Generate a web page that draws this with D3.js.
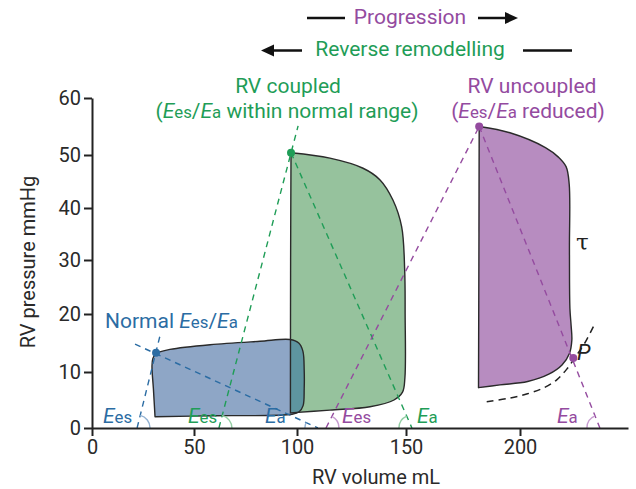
<!DOCTYPE html>
<html><head><meta charset="utf-8">
<script src="https://cdn.jsdelivr.net/npm/d3@7"></script>
<style>body{margin:0;background:#fff}svg{display:block;font-family:Roboto,"Noto Sans",sans-serif}</style>
</head><body><svg id="c" width="636" height="489"></svg>
<script>
// ---- data (volume mL, pressure mmHg) ----
const xTicks = [0, 50, 100, 150, 200];
const yTicks = [0, 10, 20, 30, 40, 50, 60];
// each loop = list of smooth segments joined at sharp corners
const normalLoop = [
  [[31.4,13.3],[29.8,12.3],[29.4,11.0],[30.1,7],[30.9,2.0]],
  [[30.9,2.0],[60,2.2],[97.6,2.45],[101,2.9],[102.8,4.0],[103.3,7],[103.3,10.3],[102.7,13.6],[100.8,15.0],[96.6,15.6],[82,15.3],[57.8,14.7],[38.2,13.9],[31.4,13.3]]
];
const coupledLoop = [
  [[97.1,50.4],[96.9,30],[96.8,2.7]],
  [[96.8,2.7],[115.1,3.2],[133.5,3.8],[144.5,5.0],[148.4,6.4],[149.5,9],[149.6,20],[149.4,28.1],[148.0,36.4],[144.0,41.5],[138.1,45.3],[130.3,47.5],[115.1,49.4],[97.1,50.4]]
];
const uncoupledLoop = [
  [[182.1,55.0],[182.0,35],[181.8,7.2]],
  [[181.8,7.2],[191.2,7.7],[203.2,8.3],[212,9.6],[217.5,11.2],[220.6,13.2],[221.6,15.5],[221.3,18],[220.8,21],[220.6,31.9],[220.5,44.5],[219.2,47.8],[216,49.6],[210.6,51.3],[195.6,53.9],[182.1,55.0]]
];
const edpvr = [[185.4,4.7],[195,5.3],[203.1,6.1],[210,7.2],[215.3,8.6],[219.5,10.5],[223.1,12.6],[227,15],[230.9,18.1]];
// elastance lines: [start, end]
const normalEes = [[22.1,0],[33.3,16.2]];
const normalEa = [[21.1,14.8],[109.6,0]];
const coupledEes = [[62.1,0],[100.5,55.1]];
const coupledEa = [[97.1,50.4],[152.6,0]];
const uncoupledEes = [[113.3,0],[182.1,55.0]];
const uncoupledEa = [[182.1,55.0],[233.3,0]];
const esPoints = [[31.4,13.3],[97.1,50.4],[182.1,55.0],[222.2,12.4]];

const C = {blue:"#2b6ca3", green:"#1f9d57", purple:"#944b9f",
  blueFill:"#8ea6c6", greenFill:"#96c29d", purpleFill:"#b78cc0", overlap:"#5e95a0",
  blueArc:"#93b2d2", greenArc:"#93cea4", purpleArc:"#c79cd0"};

const svg = d3.select("#c");
const x = d3.scaleLinear().domain([0,50,100,150,200,245]).range([92,194,297,406,520,628]);
const y = d3.scaleLinear().domain([0,10,20,30,40,50,60]).range([428,372,314,260,208,155,98]);

const segLine = d3.line().x(d=>x(d[0])).y(d=>y(d[1])).curve(d3.curveCatmullRom.alpha(0.5));
const openLine = segLine;
const straight = d3.line().x(d=>x(d[0])).y(d=>y(d[1]));
function loopPath(segs){
  return segs.map((s,i)=>{ const p = segLine(s); return i===0 ? p : p.replace(/^M/,"L"); }).join("") + "Z";
}

svg.append("defs").append("clipPath").attr("id","gclip").append("path").attr("d", loopPath(coupledLoop));

// fills
svg.append("path").attr("d", loopPath(coupledLoop)).attr("fill", C.greenFill);
svg.append("path").attr("d", loopPath(uncoupledLoop)).attr("fill", C.purpleFill);
svg.append("path").attr("d", loopPath(normalLoop)).attr("fill", C.blueFill);
svg.append("path").attr("d", loopPath(normalLoop)).attr("fill", C.overlap).attr("clip-path","url(#gclip)");
// outlines
[coupledLoop, uncoupledLoop, normalLoop].forEach(L=>{
  svg.append("path").attr("d", loopPath(L)).attr("fill","none").attr("stroke","#2a2a2a").attr("stroke-width",1.4).attr("stroke-linejoin","round");
});

// EDPVR dashed
svg.append("path").attr("d", openLine(edpvr)).attr("fill","none").attr("stroke","#222").attr("stroke-width",1.5).attr("stroke-dasharray","7,5");

// dashed elastance lines
const dashed = [[normalEes,C.blue],[normalEa,C.blue],[coupledEes,C.green],[coupledEa,C.green],[uncoupledEes,C.purple],[uncoupledEa,C.purple]];
dashed.forEach(([L,col])=>{
  svg.append("path").attr("d", straight(L)).attr("fill","none").attr("stroke",col).attr("stroke-width",1.4).attr("stroke-dasharray","6,5");
});

// angle arcs at x-intercepts
function arc(L, col, kind){
  const base = L[0][1]===0 ? L[0] : L[1];
  const other = L[0][1]===0 ? L[1] : L[0];
  const cx = x(base[0]), cy = y(0), ox = x(other[0]), oy = y(other[1]);
  const th = Math.atan2(cy-oy, ox-cx); const r = 13;
  const ex = cx + r*Math.cos(th), ey = cy - r*Math.sin(th);
  let d;
  if(kind==="es") d = `M${cx+r},${cy} A${r},${r} 0 0 0 ${ex},${ey}`;
  else d = `M${cx-r},${cy} A${r},${r} 0 0 1 ${ex},${ey}`;
  svg.append("path").attr("d", d).attr("fill","none").attr("stroke",col).attr("stroke-width",1.4);
}
arc(normalEes, C.blueArc, "es"); arc(normalEa, C.blueArc, "a");
arc(coupledEes, C.greenArc, "es"); arc(coupledEa, C.greenArc, "a");
arc(uncoupledEes, C.purpleArc, "es"); arc(uncoupledEa, C.purpleArc, "a");

// dots
const dotCols = [C.blue, C.green, C.purple, C.purple];
esPoints.forEach((p,i)=>svg.append("circle").attr("cx",x(p[0])).attr("cy",y(p[1])).attr("r",4).attr("fill",dotCols[i]));

// axes
const gx = svg.append("g").attr("transform",`translate(0,${y(0)})`)
  .call(d3.axisBottom(x).tickValues(xTicks).tickSize(8).tickSizeOuter(0).tickPadding(4));
const gy = svg.append("g").attr("transform",`translate(${x(0)},0)`)
  .call(d3.axisLeft(y).tickValues(yTicks).tickSize(8).tickSizeOuter(0).tickPadding(3));
[gx,gy].forEach(g=>{
  g.select(".domain").attr("stroke","#222").attr("stroke-width",2);
  g.selectAll(".tick line").attr("stroke","#222").attr("stroke-width",2);
  g.selectAll(".tick text").attr("font-size",20).attr("fill","#2a2a2a").attr("font-family","Roboto");
});

svg.append("text").attr("x",376).attr("y",484).attr("text-anchor","middle").attr("font-size",20).attr("fill","#2a2a2a").text("RV volume mL");
svg.append("text").attr("transform","translate(35,262) rotate(-90)").attr("text-anchor","middle").attr("font-size",20).attr("fill","#2a2a2a").text("RV pressure mmHg");

// E-label helper
function eLabel(parent, sub, fs){
  parent.append("tspan").attr("font-style","italic").text("E");
  parent.append("tspan").attr("font-size", fs*0.8).text(sub);
}
function richText(xp, yp, parts, col, fs, anchor){
  const t = svg.append("text").attr("x",xp).attr("y",yp).attr("fill",col).attr("font-size",fs).attr("text-anchor",anchor||"start");
  parts.forEach(p=>{
    if(p[0]==="E") eLabel(t, p[1], fs); else t.append("tspan").text(p[1]);
  });
  return t;
}
// bottom labels
richText(103,423,[["E","es"]],C.blue,21);
richText(188,423,[["E","es"]],C.green,21);
richText(265,423,[["E","a"]],C.blue,21);
richText(342,423,[["E","es"]],C.purple,21);
richText(417,423,[["E","a"]],C.green,21);
richText(557,423,[["E","a"]],C.purple,21);

richText(105,328,[["t","Normal "],["E","es"],["t","/"],["E","a"]],C.blue,21);
richText(288,93,[["t","RV coupled"]],C.green,21,"middle");
richText(287,118,[["t","("],["E","es"],["t","/"],["E","a"],["t"," within normal range)"]],C.green,21,"middle");
richText(532,93,[["t","RV uncoupled"]],C.purple,21,"middle");
richText(528,118,[["t","("],["E","es"],["t","/"],["E","a"],["t"," reduced)"]],C.purple,21,"middle");

svg.append("text").attr("x",576).attr("y",250).attr("font-size",23).attr("fill","#222").attr("font-family","DejaVu Serif").text("τ");
svg.append("text").attr("x",577).attr("y",360).attr("font-size",22).attr("font-style","italic").attr("fill","#222").text("P");

// header
svg.append("text").attr("x",410).attr("y",24).attr("text-anchor","middle").attr("font-size",21).attr("fill",C.purple).text("Progression");
svg.append("text").attr("x",410).attr("y",56).attr("text-anchor","middle").attr("font-size",21).attr("fill",C.green).text("Reverse remodelling");
const ln = (x1,y1,x2,y2)=>svg.append("line").attr("x1",x1).attr("y1",y1).attr("x2",x2).attr("y2",y2).attr("stroke","#111").attr("stroke-width",2.5);
ln(307,18,345,18); ln(478,18,508,18);
svg.append("path").attr("d","M518,18 L505,12 L505,24 Z").attr("fill","#111");
ln(272,50.5,302,50.5); ln(523,50.5,572,50.5);
svg.append("path").attr("d","M261,50.5 L274,44.5 L274,56.5 Z").attr("fill","#111");
</script></body></html>
